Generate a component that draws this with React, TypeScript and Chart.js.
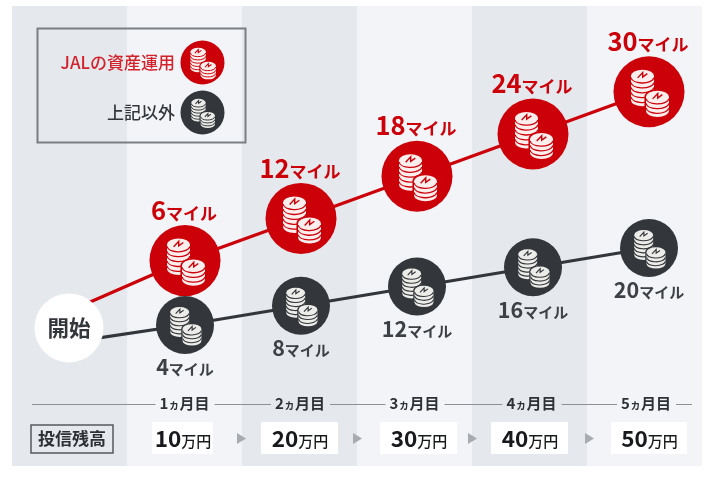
import { useEffect, useRef } from "react";
import { Chart, registerables } from "chart.js";

Chart.register(...registerables);

// ---- values ----
const months = [0, 1, 2, 3, 4, 5];
const jalMiles = [-1.2, 6, 12, 18, 24, 30]; // first entry: where the line leaves the start disc
const otherMiles = [0.4, 4, 8, 12, 16, 20];
const balances = [10, 20, 30, 40, 50];
const monthTicks = [1, 2, 3, 4, 5];
const startLevel = 3.4;

// ---- style and layout ----
const W = 715;
const H = 477;
const RED = "#cc0008";
const INK = "#33363b";
const BAND_DARK = "#e5e8ed";
const BAND_LIGHT = "#f2f4f8";
const FONT = '"Noto Sans CJK JP", "Noto Sans", sans-serif';
const BAND_EDGES = [12, 127, 242, 357, 472, 587, 702];
const MONTH_X = [184.5, 300, 414.5, 531.5, 646];
const BOX_SPANS = [[152, 213], [261, 338], [380, 457], [491, 568], [611, 687]];
const ARROW_X = [237, 353, 468, 585];

type Seg = [string, number, number?];

function drawSegs(ctx: CanvasRenderingContext2D, segs: Seg[], cx: number, midY: number, color: string) {
  ctx.save();
  ctx.fillStyle = color;
  ctx.textBaseline = "alphabetic";
  ctx.textAlign = "left";
  let total = 0;
  const widths = segs.map(([t, s, w]) => {
    ctx.font = `${w ?? 700} ${s}px ${FONT}`;
    const m = ctx.measureText(t).width;
    total += m;
    return m;
  });
  const maxSize = Math.max(...segs.map((s) => s[1]));
  const base = midY + maxSize * 0.36;
  let x = cx - total / 2;
  segs.forEach(([t, s, w], i) => {
    ctx.font = `${w ?? 700} ${s}px ${FONT}`;
    ctx.fillText(t, x, base);
    x += widths[i];
  });
  ctx.restore();
}

function coinStack(
  ctx: CanvasRenderingContext2D,
  cx: number,
  topY: number,
  rx: number,
  ry: number,
  layers: number,
  step: number,
  bg: string,
  coin: string,
  lw: number
) {
  const bottom = topY + layers * step;
  const body = () => {
    ctx.beginPath();
    ctx.ellipse(cx, topY, rx, ry, 0, Math.PI, 0);
    ctx.lineTo(cx + rx, bottom);
    ctx.ellipse(cx, bottom, rx, ry, 0, 0, Math.PI);
    ctx.closePath();
  };
  ctx.strokeStyle = bg;
  ctx.lineWidth = lw * 2.4;
  body();
  ctx.stroke();
  ctx.fillStyle = coin;
  body();
  ctx.fill();
  ctx.strokeStyle = bg;
  ctx.lineWidth = lw;
  for (let i = 0; i < layers; i++) {
    ctx.beginPath();
    ctx.ellipse(cx, topY + i * step + step * 0.25, rx, ry, 0, 0.1, Math.PI - 0.1);
    ctx.stroke();
  }
  // coin face mark
  ctx.lineWidth = lw * 1.1;
  ctx.beginPath();
  ctx.moveTo(cx - rx * 0.42, topY + ry * 0.35);
  ctx.lineTo(cx + rx * 0.02, topY - ry * 0.55);
  ctx.lineTo(cx + rx * 0.02, topY + ry * 0.2);
  ctx.lineTo(cx + rx * 0.42, topY - ry * 0.35);
  ctx.stroke();
}

function coins(ctx: CanvasRenderingContext2D, x: number, y: number, s: number, bg: string, coin: string) {
  coinStack(ctx, x - 6.5 * s, y - 16 * s, 11.5 * s, 6 * s, 5, 4.9 * s, bg, coin, 1.3 * Math.max(s, 0.75));
  coinStack(ctx, x + 8.5 * s, y + 5 * s, 11.5 * s, 6 * s, 3, 4.7 * s, bg, coin, 1.3 * Math.max(s, 0.75));
}

const infographic = {
  id: "infographic",
  beforeDatasetsDraw(chart: any) {
    const ctx: CanvasRenderingContext2D = chart.ctx;
    ctx.save();
    // alternating month bands
    for (let i = 0; i < BAND_EDGES.length - 1; i++) {
      ctx.fillStyle = i % 2 === 0 ? BAND_DARK : BAND_LIGHT;
      ctx.fillRect(BAND_EDGES[i], 6, BAND_EDGES[i + 1] - BAND_EDGES[i], 460);
    }
    // legend frame
    ctx.strokeStyle = "#7b7f84";
    ctx.lineWidth = 2;
    ctx.strokeRect(37.5, 28.5, 208, 114);
    ctx.restore();
  },
  afterDatasetsDraw(chart: any) {
    const ctx: CanvasRenderingContext2D = chart.ctx;
    ctx.save();
    const jal = chart.getDatasetMeta(0).data;
    const other = chart.getDatasetMeta(1).data;
    const start = chart.getDatasetMeta(2).data[0];

    // discs' coins and value labels (skipping the start point)
    for (let i = 1; i < months.length; i++) {
      coins(ctx, jal[i].x, jal[i].y, 1, RED, "#fdeeee");
      coins(ctx, other[i].x, other[i].y, 0.82, INK, "#ecece8");
      drawSegs(ctx, [[String(jalMiles[i]), 25.5], ["マイル", 17]], jal[i].x - 1, jal[i].y - 50, RED);
      drawSegs(ctx, [[String(otherMiles[i]), 21.5], ["マイル", 15]], other[i].x, other[i].y + 42.5, "#3d4044");
    }
    drawSegs(ctx, [["開始", 21.5]], start.x, start.y, INK);

    // legend
    ctx.textAlign = "right";
    ctx.textBaseline = "middle";
    ctx.font = `500 17px ${FONT}`;
    ctx.fillStyle = "#d4222a";
    ctx.fillText("JALの資産運用", 175, 63);
    ctx.fillStyle = INK;
    ctx.fillText("上記以外", 175, 113);
    ctx.fillStyle = RED;
    ctx.beginPath();
    ctx.arc(202.5, 62.5, 22, 0, Math.PI * 2);
    ctx.fill();
    coins(ctx, 202.5, 62.5, 0.67, RED, "#fdeeee");
    ctx.fillStyle = INK;
    ctx.beginPath();
    ctx.arc(202.5, 112.5, 22, 0, Math.PI * 2);
    ctx.fill();
    coins(ctx, 202.5, 112.5, 0.62, INK, "#ecece8");

    // month rule, broken around its labels
    ctx.strokeStyle = "#8d9094";
    ctx.lineWidth = 1;
    let from = 32;
    MONTH_X.forEach((x) => {
      ctx.beginPath();
      ctx.moveTo(from, 404.5);
      ctx.lineTo(x - 29, 404.5);
      ctx.stroke();
      from = x + 30;
    });
    ctx.beginPath();
    ctx.moveTo(from, 404.5);
    ctx.lineTo(692, 404.5);
    ctx.stroke();
    monthTicks.forEach((m, i) => {
      drawSegs(ctx, [[String(m), 15], ["ヵ", 11], ["月目", 15]], MONTH_X[i], 404, "#2d3034");
    });

    // balance row
    ctx.strokeStyle = "#55585c";
    ctx.lineWidth = 1.5;
    ctx.strokeRect(31, 425, 82, 28);
    drawSegs(ctx, [["投信残高", 17]], 72, 439, "#2d3034");
    balances.forEach((b, i) => {
      const [a, z] = BOX_SPANS[i];
      ctx.fillStyle = "#ffffff";
      ctx.fillRect(a, 422, z - a, 32);
      drawSegs(ctx, [[String(b), 22.5], ["万円", 15, 500]], (a + z) / 2 + 0.5, 439, "#17191c");
    });
    ctx.fillStyle = "#a8abaf";
    ARROW_X.forEach((x) => {
      ctx.beginPath();
      ctx.moveTo(x, 433);
      ctx.lineTo(x + 9, 438.5);
      ctx.lineTo(x, 444);
      ctx.closePath();
      ctx.fill();
    });
    ctx.restore();
  },
};

export default function App() {
  const ref = useRef<HTMLCanvasElement>(null);
  useEffect(() => {
    document.body.style.margin = "0";
    document.body.style.background = "#ffffff";
    const points = (vals: number[]) => vals.map((y, i) => ({ x: months[i], y }));
    const chart = new Chart(ref.current as HTMLCanvasElement, {
      type: "line",
      data: {
        datasets: [
          {
            label: "JALの資産運用",
            data: points(jalMiles),
            yAxisID: "yJal",
            borderColor: RED,
            backgroundColor: RED,
            borderWidth: 3.2,
            pointRadius: (c: any) => (c.dataIndex === 0 ? 0 : 35.5),
            pointBorderWidth: 0,
            order: 3,
          },
          {
            label: "上記以外",
            data: points(otherMiles),
            yAxisID: "yOther",
            borderColor: INK,
            backgroundColor: INK,
            borderWidth: 3.2,
            pointRadius: (c: any) => (c.dataIndex === 0 ? 0 : 29),
            pointBorderWidth: 0,
            order: 2,
          },
          {
            label: "開始",
            data: [{ x: 0, y: startLevel }],
            yAxisID: "yOther",
            showLine: false,
            backgroundColor: "#ffffff",
            pointRadius: 34.5,
            pointBorderWidth: 0,
            order: 1,
          },
        ],
      },
      options: {
        responsive: false,
        animation: false,
        devicePixelRatio: 1,
        events: [],
        layout: { padding: 0, autoPadding: false },
        plugins: { legend: { display: false }, tooltip: { enabled: false } },
        scales: {
          x: { type: "linear", display: false, min: -0.5948, max: 5.569 },
          yJal: { type: "linear", display: false, min: -24.77, max: 43.05 },
          yOther: { type: "linear", display: false, min: -27.6, max: 71.56 },
        },
      } as any,
      plugins: [infographic],
    } as any);
    return () => chart.destroy();
  }, []);
  return (
    <div style={{ position: "absolute", left: 0, top: 0, width: W, height: H }}>
      <canvas ref={ref} width={W} height={H} style={{ display: "block", width: W, height: H, filter: "blur(0.4px)" }} />
    </div>
  );
}
